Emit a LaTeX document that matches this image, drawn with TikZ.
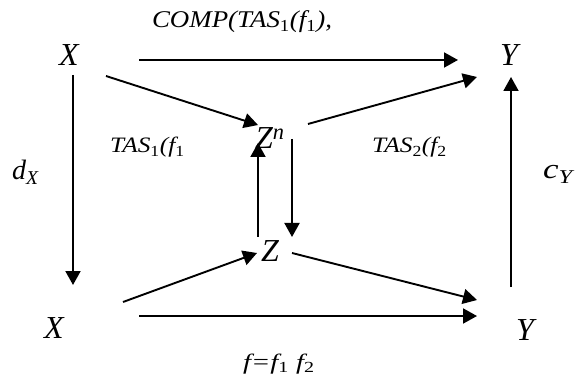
\documentclass[tikz,border=0pt]{standalone}
\usepackage{fontspec}
\usepackage{graphicx}
\setmainfont{Liberation Serif}
\usetikzlibrary{arrows.meta}
\newcommand\hsx[2]{\scalebox{#1}[1]{#2}}
\newcommand\sub[1]{\textsubscript{\upshape #1}}
\begin{document}
\begin{tikzpicture}[x=1pt,y=-1pt,
  big/.style={font=\fontsize{32}{34}\selectfont\itshape, inner sep=0pt},
  lab/.style={font=\fontsize{28}{30}\selectfont\itshape, inner sep=0pt},
  small/.style={font=\fontsize{22}{24}\selectfont\itshape, inner sep=0pt},
  arr/.style={line width=1.9pt, -{Triangle[length=14pt,width=15pt]}}]
\useasboundingbox (0,0) rectangle (581,374);
% main nodes
\node[big] (X1) at (69,55) {X};
\node[big] (Y1) at (509,55) {Y};
\node[big] (X2) at (54,328) {X};
\node[big] (Y2) at (525,330) {Y};
\node[big, anchor=base west] (Zn) at (255,149) {Z\textsuperscript{n}};
\node[big] (Z) at (270,251) {Z};
% labels
\node[lab, anchor=base west] (dX) at (12,180) {d\textsubscript{X}};
\node[lab, anchor=base west] (cY) at (543,179) {\hsx{1.25}{c\textsubscript{Y}}};
\node[font=\fontsize{24}{26}\selectfont\itshape, inner sep=0pt, anchor=base] (comp) at (242,28) {\hsx{1.12}{COMP(TAS\sub{1}(f\sub{1}),}};
\node[small, anchor=base west] (t1) at (110,153) {\hsx{1.15}{TAS\sub{1}(f\sub{1}}};
\node[small, anchor=base west] (t2) at (372,153) {\hsx{1.15}{TAS\sub{2}(f\sub{2}}};
\node[small, anchor=base] (ff) at (279,369) {\hsx{1.3}{f=f\sub{1} f\sub{2}}};
% connector end points
\coordinate (a1) at (139,60);   \coordinate (a2) at (458,60);
\coordinate (b1) at (73,75);    \coordinate (b2) at (73,285);
\coordinate (c1) at (511,287);  \coordinate (c2) at (511,77);
\coordinate (d1) at (139,316);  \coordinate (d2) at (477,316);
\coordinate (e1) at (106,76);   \coordinate (e2) at (258,125);
\coordinate (g1) at (308,124);  \coordinate (g2) at (477,77);
\coordinate (h1) at (258,237);  \coordinate (h2) at (258,143);
\coordinate (i1) at (292,139);  \coordinate (i2) at (292,237);
\coordinate (j1) at (123,302);  \coordinate (j2) at (257,253);
\coordinate (k1) at (292,253);  \coordinate (k2) at (477,300);
\draw[arr] (a1) -- (a2);
\draw[arr] (b1) -- (b2);
\draw[arr] (c1) -- (c2);
\draw[arr] (d1) -- (d2);
\draw[arr] (e1) -- (e2);
\draw[arr] (g1) -- (g2);
\draw[arr] (h1) -- (h2);
\draw[arr] (i1) -- (i2);
\draw[arr] (j1) -- (j2);
\draw[arr] (k1) -- (k2);
\end{tikzpicture}
\end{document}
